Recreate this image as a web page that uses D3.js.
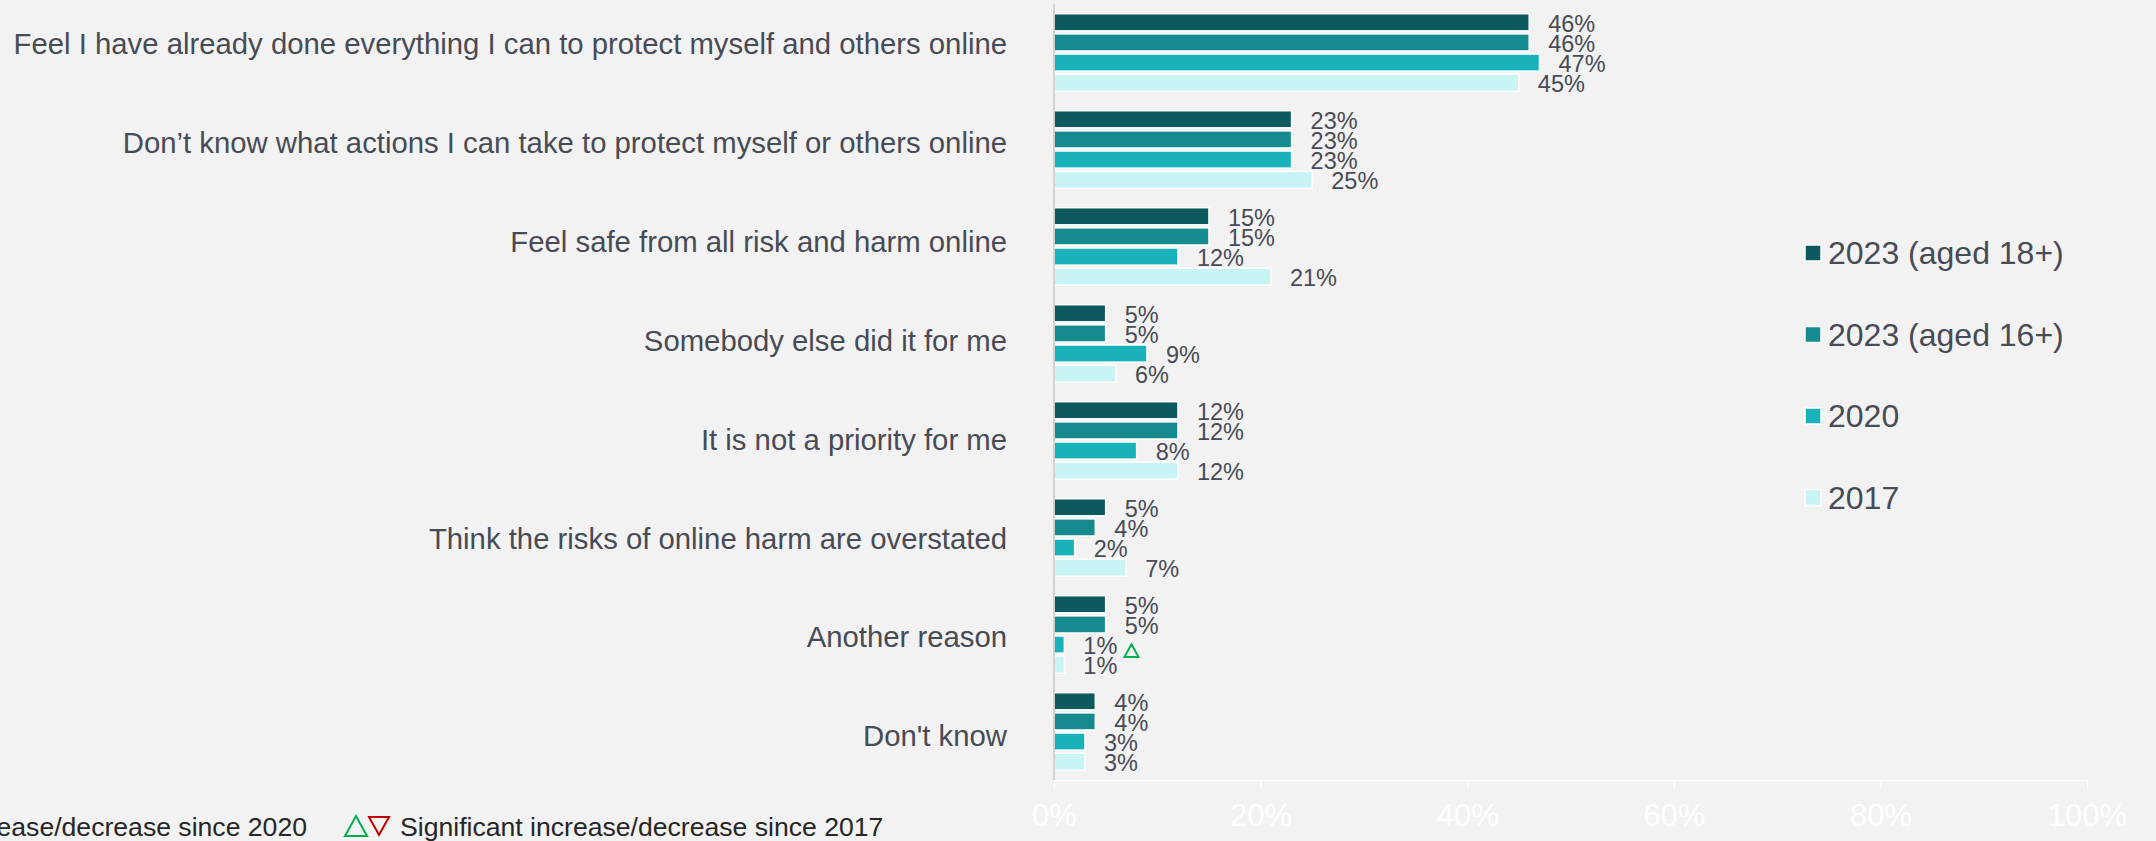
<!DOCTYPE html>
<html>
<head>
<meta charset="utf-8">
<script src="https://cdn.jsdelivr.net/npm/d3@7"></script>
<style>
  html, body { margin: 0; padding: 0; background: #f2f2f2; }
  svg { display: block; }
  text { font-family: "Liberation Sans", Arial, sans-serif; }
</style>
</head>
<body>
<svg id="chart" width="2156" height="841"></svg>
<script>
// Reasons for not taking (further) steps to protect themselves or others online
const categories = [
  "Feel I have already done everything I can to protect myself and others online",
  "Don’t know what actions I can take to protect myself or others online",
  "Feel safe from all risk and harm online",
  "Somebody else did it for me",
  "It is not a priority for me",
  "Think the risks of online harm are overstated",
  "Another reason",
  "Don't know"
];

const seriesNames = ["2023 (aged 18+)", "2023 (aged 16+)", "2020", "2017"];
const seriesColors = ["#0d5a5e", "#158a8f", "#19b1ba", "#c9f4f5"];

const values2023_18 = [46, 23, 15, 5, 12, 5, 5, 4];
const values2023_16 = [46, 23, 15, 5, 12, 4, 5, 4];
const values2020    = [47, 23, 12, 9,  8, 2, 1, 3];
const values2017    = [45, 25, 21, 6, 12, 7, 1, 3];
const seriesValues = [values2023_18, values2023_16, values2020, values2017];

// significance markers: category, series the marker sits beside, direction
const sigMarkers = [
  { category: "Another reason", series: "2020", dir: "up", vs: "2017" }
];

const xTicks = [0, 20, 40, 60, 80, 100];

const svg = d3.select("#chart");
const textColor = "#474b55";

const x = d3.scaleLinear().domain([0, 100]).range([1054, 2087]);
const y = d3.scaleBand().domain(categories).range([4, 780]).paddingInner(0.2).paddingOuter(0.1);
const ySub = d3.scaleBand().domain(seriesNames).range([0, y.bandwidth()]).paddingInner(0.15);
const yLabel = d3.scalePoint().domain(categories).range([44, 736]);

// rows of bars
const rows = categories.map((c, i) => ({
  category: c,
  bars: seriesNames.map((s, j) => ({ series: s, value: seriesValues[j][i], color: seriesColors[j] }))
}));

const groups = svg.append("g").selectAll("g.row")
  .data(rows).join("g")
  .attr("class", "row")
  .attr("transform", d => `translate(0,${y(d.category)})`);

groups.selectAll("rect")
  .data(d => d.bars).join("rect")
  .attr("x", x(0))
  .attr("y", d => ySub(d.series))
  .attr("width", d => x(d.value) - x(0))
  .attr("height", ySub.bandwidth())
  .attr("fill", d => d.color)
  .attr("stroke", "#ffffff")
  .attr("stroke-width", 1.5);

groups.selectAll("text.val")
  .data(d => d.bars).join("text")
  .attr("class", "val")
  .attr("x", d => x(d.value) + 19)
  .attr("y", d => ySub(d.series) + ySub.bandwidth() / 2 + 1.5)
  .attr("dy", "0.35em")
  .attr("font-size", 23.5)
  .attr("fill", textColor)
  .text(d => d.value + "%");

// category labels
svg.append("g").selectAll("text")
  .data(categories).join("text")
  .attr("x", 1007)
  .attr("y", d => yLabel(d))
  .attr("dy", "0.35em")
  .attr("text-anchor", "end")
  .attr("font-size", 29.3)
  .attr("fill", textColor)
  .text(d => d);

// vertical category axis line
svg.append("line")
  .attr("x1", x(0)).attr("x2", x(0))
  .attr("y1", 4).attr("y2", 780)
  .attr("stroke", "#c4c6ca")
  .attr("stroke-width", 1.5);

// bottom value axis (white)
const xAxis = svg.append("g")
  .attr("transform", "translate(0,780)")
  .call(d3.axisBottom(x).tickValues(xTicks).tickFormat(d => d + "%").tickSize(9).tickPadding(15));
xAxis.select(".domain").attr("stroke", "#ffffff");
xAxis.selectAll(".tick line").attr("stroke", "#ffffff");
xAxis.selectAll(".tick text")
  .attr("fill", "#ffffff")
  .attr("font-size", 31)
  .attr("font-family", "\"Liberation Sans\", Arial, sans-serif");

// legend
const legend = svg.append("g").selectAll("g")
  .data(seriesNames).join("g")
  .attr("transform", (d, i) => `translate(1805,${253 + i * 81.5})`);
legend.append("rect")
  .attr("x", 0).attr("y", -8).attr("width", 16).attr("height", 16)
  .attr("fill", (d, i) => seriesColors[i])
  .attr("stroke", "#ffffff").attr("stroke-width", 1.5);
legend.append("text")
  .attr("x", 23).attr("y", 0).attr("dy", "0.35em")
  .attr("font-size", 32)
  .attr("fill", textColor)
  .text(d => d);

// triangle helpers
function triPath(cx, cy, s, up) {
  const h = s * 0.9;
  return up
    ? `M${cx},${cy - h / 2}L${cx + s / 2},${cy + h / 2}L${cx - s / 2},${cy + h / 2}Z`
    : `M${cx - s / 2},${cy - h / 2}L${cx + s / 2},${cy - h / 2}L${cx},${cy + h / 2}Z`;
}

// significance markers beside bars
svg.append("g").selectAll("path")
  .data(sigMarkers).join("path")
  .attr("d", d => {
    const cy = y(d.category) + ySub(d.series) + ySub.bandwidth() / 2 + 6;
    return triPath(x(7.5), cy, 14, d.dir === "up");
  })
  .attr("fill", "none")
  .attr("stroke", d => d.dir === "up" ? "#00b050" : "#c00000")
  .attr("stroke-width", 2);

// footnote key
const foot = svg.append("g");
foot.append("text")
  .attr("x", 307).attr("y", 836)
  .attr("text-anchor", "end")
  .attr("font-size", 26.6)
  .attr("fill", "#262626")
  .text("Significant increase/decrease since 2020");
foot.append("path").attr("d", triPath(356, 826, 22, true))
  .attr("fill", "none").attr("stroke", "#00b050").attr("stroke-width", 2);
foot.append("path").attr("d", triPath(379, 826, 20, false))
  .attr("fill", "none").attr("stroke", "#c00000").attr("stroke-width", 2);
foot.append("text")
  .attr("x", 400).attr("y", 836)
  .attr("font-size", 26.6)
  .attr("fill", "#262626")
  .text("Significant increase/decrease since 2017");
</script>
</body>
</html>
